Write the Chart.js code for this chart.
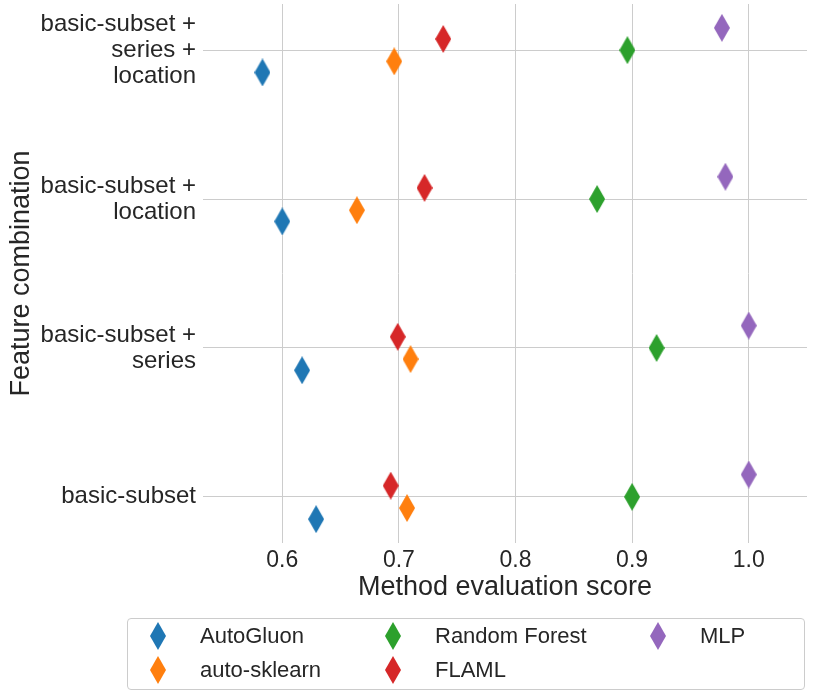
<!DOCTYPE html>
<html>
<head>
<meta charset="utf-8">
<script src="https://cdn.jsdelivr.net/npm/chart.js@4.4.0/dist/chart.umd.min.js"></script>
<style>
    body { margin: 0; background: #fff; }
    #wrap { position: relative; width: 814px; height: 697px; }
    #legend {
        position: absolute; left: 127px; top: 618px; width: 678px; height: 72px;
        box-sizing: border-box; border: 1px solid #cccccc; border-radius: 4px;
        display: grid; grid-auto-flow: column;
        grid-template-columns: 235px 265px auto; grid-template-rows: 34px 34px;
        padding-left: 22px;
        font: 22px "Liberation Sans", Arial, sans-serif; color: #262626;
    }
    #legend .item { display: flex; align-items: center; white-space: nowrap; }
    #legend .item canvas { margin-right: 34px; }
</style>
</head>
<body>
<div id="wrap">
    <canvas id="chart"></canvas>
    <div id="legend"></div>
</div>
<script>
// --- Data ---
const categories = [
    ['basic-subset +', 'series +', 'location'],
    ['basic-subset +', 'location'],
    ['basic-subset +', 'series'],
    ['basic-subset']
];
const methods = ['AutoGluon', 'auto-sklearn', 'Random Forest', 'FLAML', 'MLP'];
const autoGluon    = [0.583, 0.600, 0.617, 0.629];
const autoSklearn  = [0.696, 0.664, 0.710, 0.707];
const randomForest = [0.896, 0.870, 0.921, 0.900];
const flaml        = [0.738, 0.722, 0.699, 0.693];
const mlp          = [0.977, 0.980, 1.000, 1.000];
const xTicks = [0.6, 0.7, 0.8, 0.9, 1.0];

const series = [autoGluon, autoSklearn, randomForest, flaml, mlp];
const colors = ['#1f77b4', '#ff7f0e', '#2ca02c', '#d62728', '#9467bd'];
const dodge = [0.15, 0.075, 0, -0.075, -0.15];
const textColor = '#262626';
const fontFamily = '"Liberation Sans", Arial, sans-serif';

// thin diamond marker
function diamond(color) {
    const w = 16, h = 28;
    const c = document.createElement('canvas');
    c.width = w; c.height = h;
    const g = c.getContext('2d');
    g.fillStyle = color;
    g.beginPath();
    g.moveTo(w / 2, 0); g.lineTo(w, h / 2); g.lineTo(w / 2, h); g.lineTo(0, h / 2);
    g.closePath();
    g.fill();
    return c;
}

const markers = colors.map(diamond);

const datasets = methods.map((name, i) => ({
    label: name,
    data: series[i].map((v, k) => ({ x: v, y: k + dodge[i] })),
    pointStyle: markers[i],
    pointRadius: 10,
    backgroundColor: colors[i],
    borderColor: colors[i],
    showLine: false
}));

new Chart(document.getElementById('chart'), {
    type: 'scatter',
    data: { datasets },
    options: {
        responsive: true,
        maintainAspectRatio: false,
        animation: false,
        layout: { autoPadding: false, padding: { top: 4, right: 7, bottom: 93, left: 0 } },
        plugins: { legend: { display: false }, tooltip: { enabled: false } },
        scales: {
            x: {
                type: 'linear', min: 0.532, max: 1.05,
                afterBuildTicks: s => { s.ticks = xTicks.map(v => ({ value: v })); },
                afterFit: s => { s.height = 61; s.paddingLeft = 0; s.paddingRight = 0; },
                ticks: {
                    callback: v => v.toFixed(1),
                    color: textColor, padding: 4,
                    font: { family: fontFamily, size: 23 }
                },
                grid: { color: '#cccccc', lineWidth: 1, drawTicks: false },
                border: { display: false },
                title: {
                    display: true, text: 'Method evaluation score', color: textColor,
                    font: { family: fontFamily, size: 27 }, padding: 0
                }
            },
            y: {
                type: 'linear', reverse: true, min: -0.31, max: 3.31,
                afterBuildTicks: s => { s.ticks = categories.map((c, i) => ({ value: i })); },
                afterFit: s => { s.width = 203; s.paddingTop = 0; s.paddingBottom = 0; },
                ticks: {
                    callback: v => categories[v],
                    color: textColor, padding: 7,
                    font: { family: fontFamily, size: 24, lineHeight: 1.08 }
                },
                grid: { color: '#cccccc', lineWidth: 1, drawTicks: false },
                border: { display: false },
                title: {
                    display: true, text: 'Feature combination', color: textColor,
                    font: { family: fontFamily, size: 27 }, padding: { top: 5 }
                }
            }
        }
    }
});

// --- Legend (3 columns, filled column by column) ---
const legendEl = document.getElementById('legend');
methods.forEach((name, i) => {
    const item = document.createElement('div');
    item.className = 'item';
    item.appendChild(diamond(colors[i]));
    const span = document.createElement('span');
    span.textContent = name;
    item.appendChild(span);
    legendEl.appendChild(item);
});
</script>
</body>
</html>
